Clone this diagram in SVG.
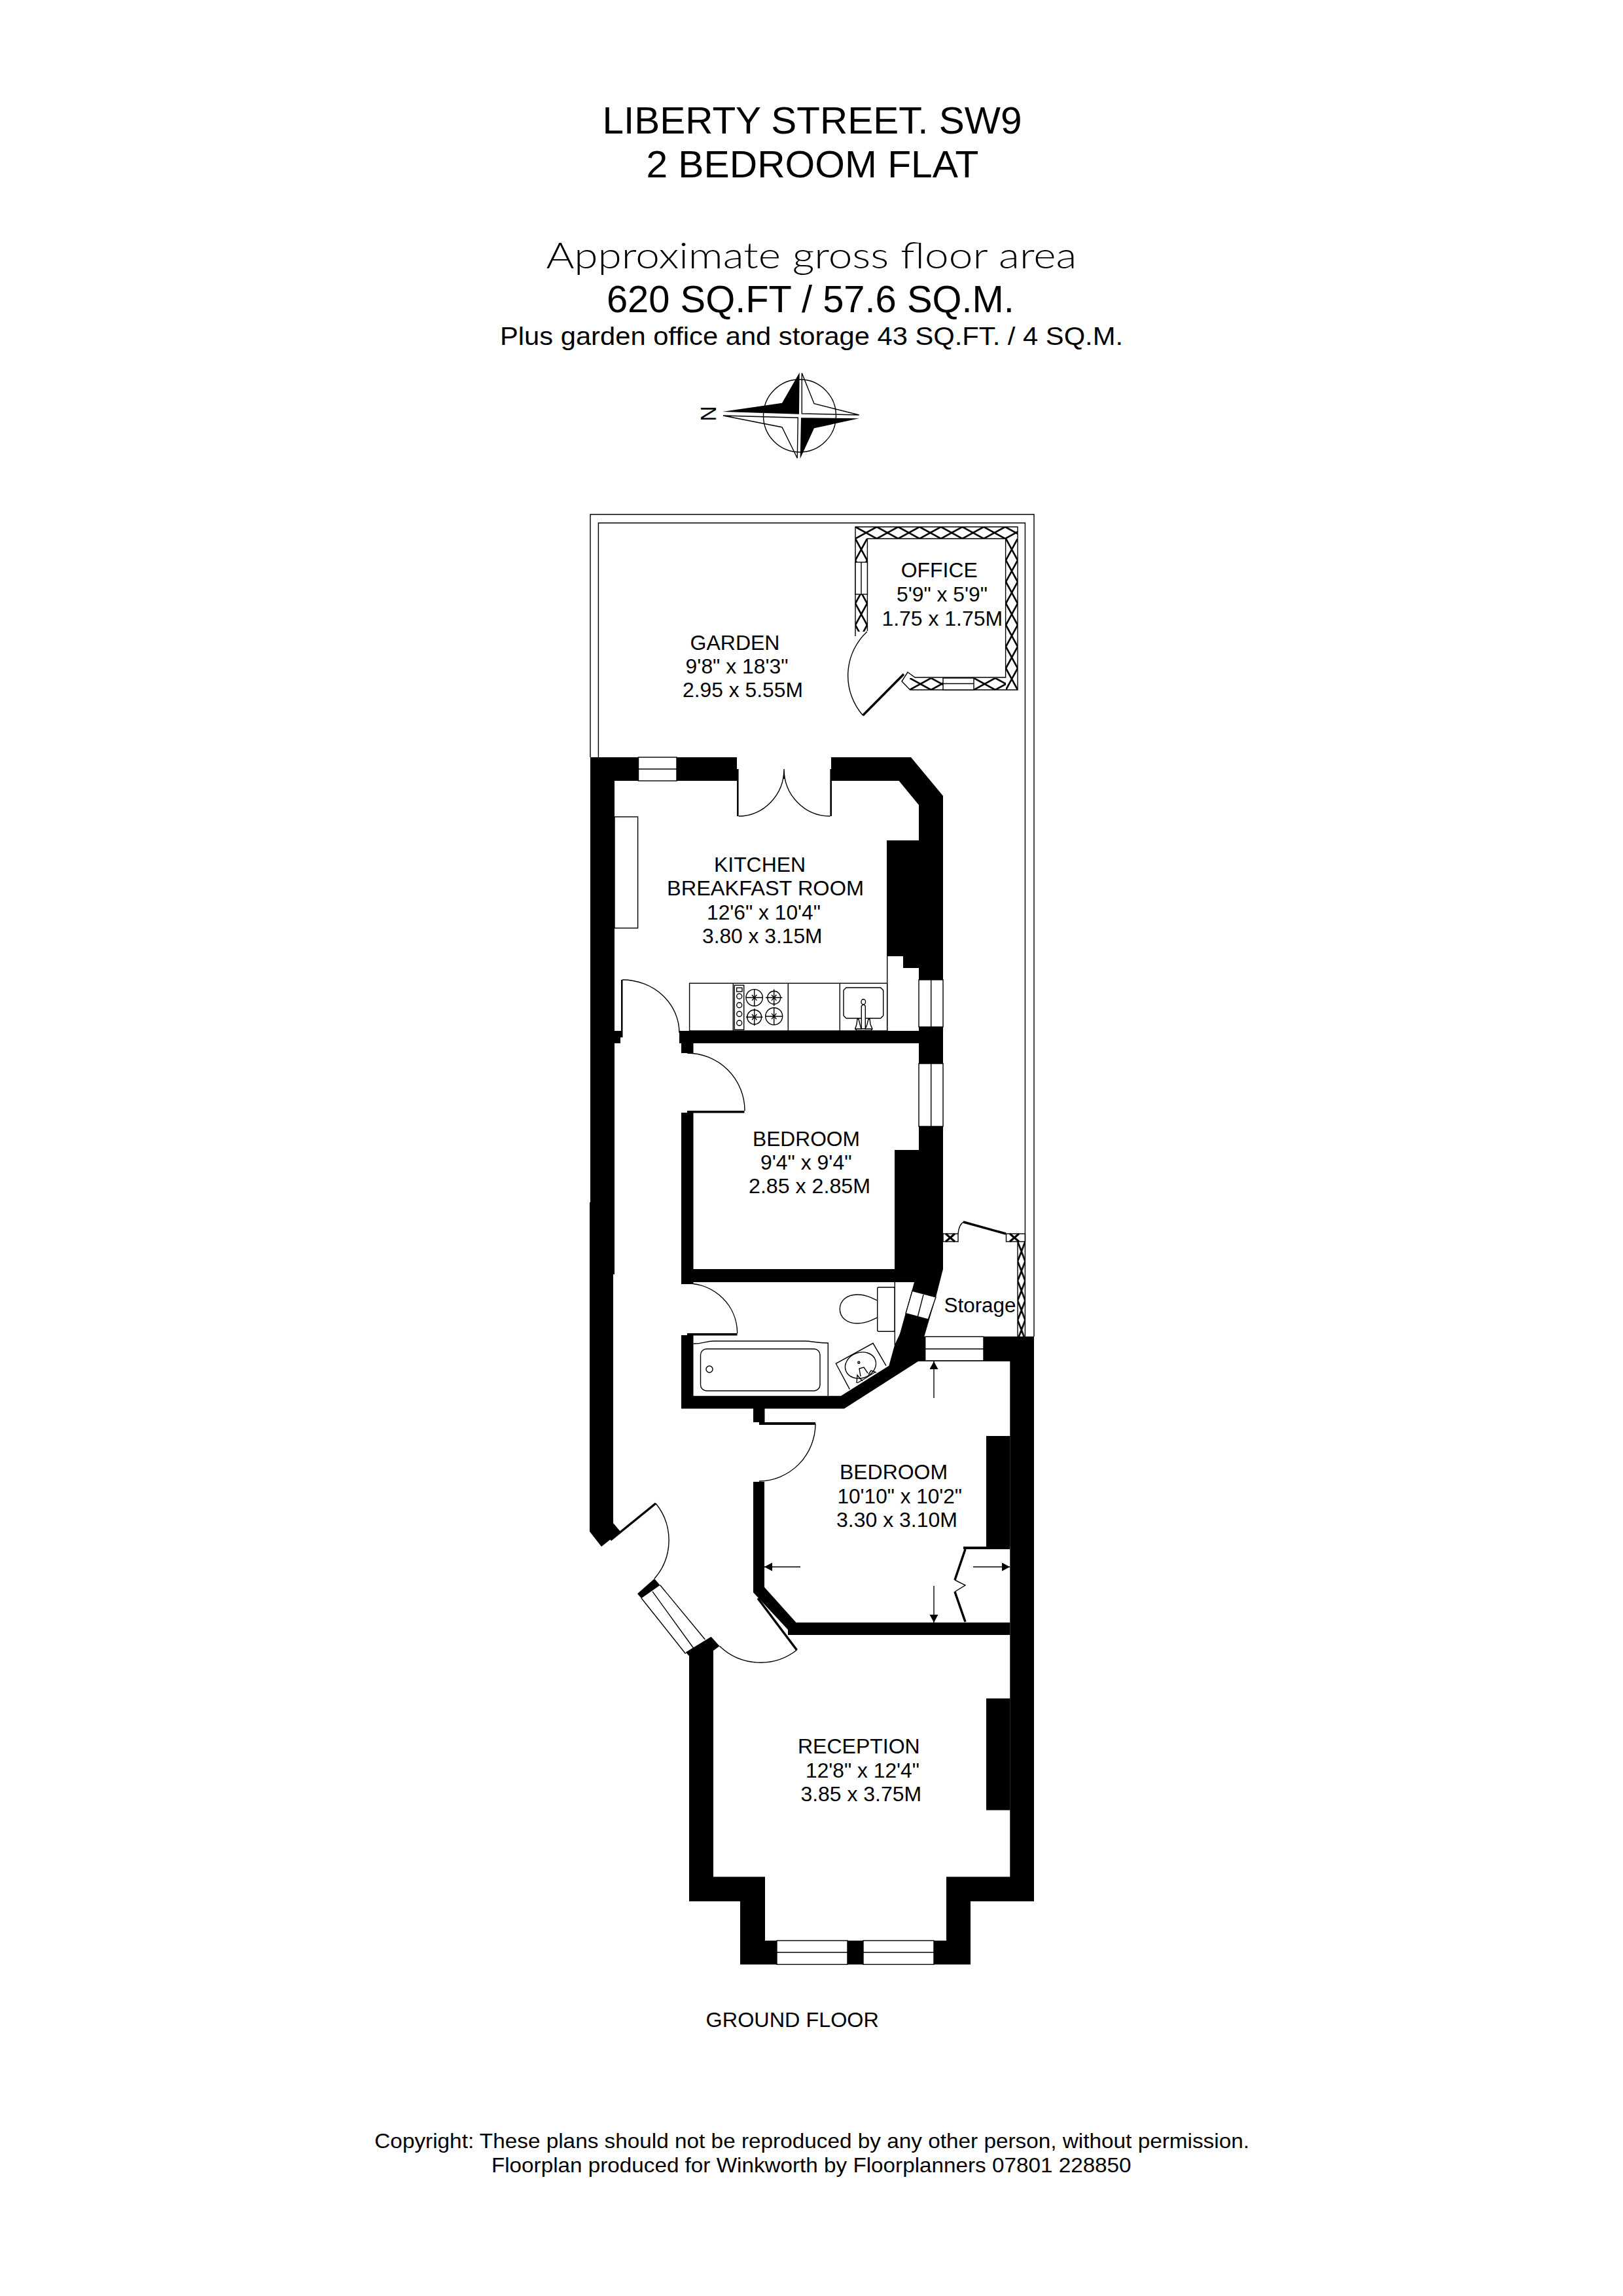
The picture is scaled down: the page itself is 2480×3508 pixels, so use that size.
<svg xmlns="http://www.w3.org/2000/svg" width="2480" height="3508" viewBox="0 0 2480 3508">
<style>
.t{font-family:"Liberation Sans",Arial,sans-serif;fill:#000;font-size:32px}
.g{font-family:Lato,"Liberation Sans",sans-serif;font-size:56px;font-weight:300;fill:#000}
.w{fill:#000;stroke:none}
.l{fill:none;stroke:#000;stroke-width:1.4}
.b{fill:#fff;stroke:#000;stroke-width:1.4}
.k{fill:none;stroke:#000;stroke-width:3.5}
.a{fill:none;stroke:#000;stroke-width:1.4;marker-end:url(#ar)}
</style>
<defs>
<marker id="ar" markerUnits="userSpaceOnUse" markerWidth="14" markerHeight="14" refX="12" refY="6.5" orient="auto"><path d="M0 0L12 6.5L0 13Z" fill="#000"/></marker>
<pattern id="xh" patternUnits="userSpaceOnUse" width="32.7" height="18"><path d="M0 0L32.7 18M32.7 0L0 18" stroke="#000" stroke-width="2.6" fill="none"/></pattern>
<pattern id="xv" patternUnits="userSpaceOnUse" width="18" height="33"><path d="M0 0L18 33M18 0L0 33" stroke="#000" stroke-width="2.6" fill="none"/></pattern>
<pattern id="xs" patternUnits="userSpaceOnUse" width="11.5" height="30"><path d="M0 0L11.5 30M11.5 0L0 30" stroke="#000" stroke-width="2.6" fill="none"/></pattern>
</defs>
<rect width="2480" height="3508" fill="#fff"/>

<g id="heading">
<text class="t" x="920.5" y="204" style="font-size:58px" textLength="641" lengthAdjust="spacingAndGlyphs">LIBERTY STREET. SW9</text>
<text class="t" x="987.4" y="270.7" style="font-size:58px" textLength="508" lengthAdjust="spacingAndGlyphs">2 BEDROOM FLAT</text>
<text class="g" x="834.4" y="410" textLength="811" lengthAdjust="spacingAndGlyphs">Approximate gross floor area</text>
<text class="t" x="926.9" y="476.7" style="font-size:58px" textLength="623" lengthAdjust="spacingAndGlyphs">620 SQ.FT / 57.6 SQ.M.</text>
<text class="t" x="764" y="526.7" style="font-size:38.5px" textLength="952" lengthAdjust="spacingAndGlyphs">Plus garden office and storage 43 SQ.FT. / 4 SQ.M.</text>
</g>

<g id="compass">
<circle class="l" cx="1222" cy="635.3" r="55.5"/>
<path d="M1104 629L1195 615.7L1221.7 569.3L1221 632.7Z" fill="#000"/>
<path d="M1312.7 639.3L1244 654.3L1222.7 700.7L1224 638.3Z" fill="#000"/>
<path class="l" d="M1225.3 570L1244 616.7L1312.7 634L1225.3 632Z"/>
<path class="l" d="M1105 635L1195 652.7L1218.3 700L1219.3 638.3Z"/>
<text class="t" transform="translate(1094,632) rotate(-90)" text-anchor="middle" style="font-size:32.5px">N</text>
</g>

<g id="garden">
<path class="l" d="M902 1157V786H1580V2042"/>
<path class="l" d="M914.4 1157V799H1566.4V2042"/>
<text class="t" x="1054.5" y="992.7" textLength="137" lengthAdjust="spacingAndGlyphs">GARDEN</text>
<text class="t" x="1047.6" y="1029" textLength="157" lengthAdjust="spacingAndGlyphs">9'8" x 18'3"</text>
<text class="t" x="1043" y="1065" textLength="184" lengthAdjust="spacingAndGlyphs">2.95 x 5.55M</text>
</g>

<g id="office">
<g transform="translate(1307,805)"><rect width="248" height="18" fill="url(#xh)"/></g>
<g transform="translate(1537,823)"><rect width="18" height="231" fill="url(#xv)"/></g>
<g transform="translate(1307,823)"><rect width="18.4" height="142" fill="url(#xv)"/></g>
<g transform="translate(1390,1036)"><rect width="147" height="18" fill="url(#xh)"/></g>
<path class="l" d="M1307 972V805H1555V1054H1390.6L1378 1041L1387 1027L1398 1035H1536.6V823H1325.4V964"/>
<rect class="b" x="1307" y="859" width="18.4" height="49"/>
<path class="l" d="M1316 859V908"/>
<rect class="b" x="1441" y="1036" width="47" height="18"/>
<path class="l" d="M1441 1044.5H1488"/>
<path class="k" d="M1318.5 1093L1381 1030"/>
<path class="l" d="M1318.5 1093A92 92 0 0 1 1325 965"/>
<text class="t" x="1376.8" y="882" textLength="117" lengthAdjust="spacingAndGlyphs">OFFICE</text>
<text class="t" x="1370" y="919" textLength="139" lengthAdjust="spacingAndGlyphs">5'9" x 5'9"</text>
<text class="t" x="1347.4" y="955.7" textLength="184.6" lengthAdjust="spacingAndGlyphs">1.75 x 1.75M</text>
</g>

<g id="storage">
<rect class="l" x="1441" y="1885" width="23" height="12"/>
<rect class="l" x="1537.5" y="1885" width="29" height="12"/>
<path d="M1445 1885L1459 1897M1459 1885L1445 1897M1543 1885L1557 1897M1557 1885L1543 1897" fill="none" stroke="#000" stroke-width="3"/>
<g transform="translate(1555,1897)"><rect width="11.5" height="145" fill="url(#xs)"/></g>
<path class="l" d="M1555 1897V2042"/>
<path class="k" d="M1472 1867L1537 1885"/>
<path class="l" d="M1464 1885Q1465 1872 1472 1867"/>
<text class="t" x="1442.5" y="2005" style="font-size:31px" textLength="110" lengthAdjust="spacingAndGlyphs">Storage</text>
</g>

<g id="walls">
<path class="w" d="M902 1157H1126V1193H939V1947H937V2327L948 2340L919 2363L901 2340V1837H902Z"/>
<rect class="w" x="1126" y="1175" width="2.6" height="72"/>
<rect class="w" x="1268.4" y="1175" width="2.6" height="72"/>
<path class="w" d="M1270 1157H1392L1441 1216V1939H1404V1479H1380V1461H1355V1284H1404V1230L1373.6 1193H1270Z"/>
<rect class="w" x="1367" y="1757" width="37" height="182"/>
<rect class="w" x="1038" y="1575" width="366" height="19"/>
<rect class="w" x="1041" y="1594" width="18.5" height="15"/>
<path class="w" d="M949 1497H951.5V1585H948V1594H939V1575H949Z"/>
<rect class="w" x="1041" y="1700" width="18.5" height="262"/>
<rect class="w" x="1050" y="1697" width="87.5" height="3.5"/>
<rect class="w" x="1041" y="1939" width="363" height="20"/>
<rect class="w" x="1050" y="2037" width="76.6" height="3.5"/>
<path class="w" d="M1041 2040H1059.5V2132.7H1285L1358.3 2086.7L1367 2055L1375 2038L1397 1959L1404 1939H1441L1430 1982L1412.3 2042L1403 2080L1290 2152.3H1041Z"/>
<rect class="w" x="1403" y="2042" width="177" height="38"/>
<rect class="w" x="1543.3" y="2042" width="36.7" height="456"/>
<rect class="w" x="1507" y="2194" width="36.5" height="169"/>
<rect class="w" x="1472" y="2363" width="71" height="4"/>
<rect class="w" x="1151" y="2152" width="17.5" height="21"/>
<rect class="w" x="1160" y="2173" width="86" height="4"/>
<path class="w" d="M1151 2264H1168V2425L1216.5 2479H1543.3V2498H1204V2490L1151 2433Z"/>
<path class="w" d="M1047.6 2524.6L1086.6 2500.7L1099.5 2515L1090 2522V2867.5H1169V2965H1446V2867.5H1543.3V2498H1580V2905H1483V3001.4H1131V2905H1053V2530Z"/>
<rect class="w" x="1507" y="2595" width="36.5" height="170.7"/>
<path class="w" d="M974 2435L1000 2412L1008.5 2422L980 2442Z"/>
</g>

<g id="windows">
<rect class="b" x="975.5" y="1157" width="58.5" height="36"/><path class="l" d="M975.5 1175H1034"/>
<rect class="b" x="1404" y="1497" width="37" height="72"/><path class="l" d="M1422.7 1497V1569"/>
<rect class="b" x="1404" y="1625" width="37" height="96"/><path class="l" d="M1422.7 1625V1721"/>
<path class="b" d="M1394 1972.3L1430 1981.7L1418.3 2016L1384 2006.7Z"/><path class="l" d="M1411 1978L1402.5 2011"/>
<rect class="b" x="1413.7" y="2042.3" width="89.3" height="36.7"/><path class="l" d="M1413.7 2061H1503"/>
<rect class="b" x="1187" y="2965" width="108" height="36.4"/><path class="l" d="M1187 2983H1295"/>
<rect class="b" x="1319" y="2965" width="108" height="36.4"/><path class="l" d="M1319 2983H1427"/>
<path class="l" d="M980 2441.7L1047.6 2526.7M997 2431.7L1061 2520M1008.5 2421.7L1077.4 2505"/>
</g>

<g id="kitchen">
<path class="l" d="M1128.6 1247A70 72 0 0 0 1198 1175M1268.4 1247A70 72 0 0 1 1198 1175M1198 1175V1190"/>
<rect class="b" x="939" y="1248" width="35.6" height="170"/>
<path class="l" d="M951 1497A87 81 0 0 1 1038 1578"/>
<rect class="l" x="1053.6" y="1502.3" width="302" height="72.7"/>
<path class="l" d="M1355.7 1461V1575M1120.3 1502.3V1575M1204.3 1502.3V1575M1283.3 1502.3V1575"/>
<rect class="l" x="1122.3" y="1505.3" width="14.4" height="68"/>
<rect class="l" x="1125.7" y="1509.3" width="8.3" height="5.7"/>
<circle class="l" cx="1129.7" cy="1522.3" r="4"/><circle class="l" cx="1129.7" cy="1535.7" r="4"/><circle class="l" cx="1129.7" cy="1549.3" r="4"/><circle class="l" cx="1129.7" cy="1563" r="4"/>
<circle class="l" cx="1152.7" cy="1524.3" r="12.7"/><circle class="l" cx="1182.7" cy="1524.3" r="10"/><circle class="l" cx="1152.7" cy="1554" r="11"/><circle class="l" cx="1182.7" cy="1552.7" r="13"/>
<path class="l" d="M1140 1524.3H1165.4M1152.7 1511.6V1537M1170 1524.3H1195.4M1182.7 1511.6V1537M1140 1554H1165.4M1152.7 1541V1567M1170 1552.7H1195.4M1182.7 1539.7V1565.7"/>
<path class="l" d="M1149 1520L1156.4 1528.6M1156.4 1520L1149 1528.6M1179 1520L1186.4 1528.6M1186.4 1520L1179 1528.6M1149 1549.7L1156.4 1558.3M1156.4 1549.7L1149 1558.3M1179 1548.4L1186.4 1557M1186.4 1548.4L1179 1557"/>
<path class="l" d="M1293 1509H1345.7L1349.7 1513V1551.7L1345.7 1555.7H1293L1289 1551.7V1513Z"/>
<path class="b" d="M1316.3 1571.7V1537L1319.3 1534.5L1322.3 1537V1571.7Z"/>
<ellipse class="b" cx="1319.3" cy="1530.7" rx="3.3" ry="4"/>
<path class="l" d="M1306.7 1572L1309 1565L1310 1557L1312 1557L1314 1565L1316 1572ZM1322.3 1572L1325 1565L1327 1557L1329 1557L1330 1565L1333 1572ZM1307 1572L1309 1574.5H1331L1333 1572"/>
<text class="t" x="1091" y="1331.7" textLength="140" lengthAdjust="spacingAndGlyphs">KITCHEN</text>
<text class="t" x="1019" y="1368" textLength="301" lengthAdjust="spacingAndGlyphs">BREAKFAST ROOM</text>
<text class="t" x="1080" y="1405" textLength="174" lengthAdjust="spacingAndGlyphs">12'6" x 10'4"</text>
<text class="t" x="1073" y="1441" textLength="183.5" lengthAdjust="spacingAndGlyphs">3.80 x 3.15M</text>
</g>

<g id="bedroom1">
<path class="l" d="M1050 1609A88 88 0 0 1 1138 1697"/>
<text class="t" x="1150" y="1750.7" textLength="164" lengthAdjust="spacingAndGlyphs">BEDROOM</text>
<text class="t" x="1162" y="1786.7" textLength="139.5" lengthAdjust="spacingAndGlyphs">9'4" x 9'4"</text>
<text class="t" x="1144" y="1823" textLength="186" lengthAdjust="spacingAndGlyphs">2.85 x 2.85M</text>
</g>

<g id="bathroom">
<path class="l" d="M1050 1961A76.6 76 0 0 1 1126.6 2037"/>
<path class="l" d="M1367.3 1959V2055"/>
<rect class="l" x="1340.7" y="1966.7" width="26.6" height="67.6" rx="2"/>
<path class="l" d="M1340.7 1987C1330 1982 1322 1978 1310 1978C1293 1978 1283.3 1988 1283.3 2000C1283.3 2012 1293 2022 1310 2022C1322 2022 1330 2018 1340.7 2013"/>
<path class="l" d="M1059.5 2053C1075 2053 1078 2049 1090 2049H1230C1242 2049 1246 2052 1265.3 2052V2132.7"/>
<rect class="l" x="1070.5" y="2061" width="182.5" height="64" rx="9"/>
<circle class="l" cx="1084" cy="2092" r="5"/>
<path class="l" d="M1298.3 2122.7L1277.3 2083.3L1334 2052.3L1354 2086.7"/>
<ellipse class="l" cx="1315" cy="2086" rx="24" ry="19.5" transform="rotate(-20 1315 2086)"/>
<circle class="l" cx="1312.3" cy="2081.7" r="1.5"/>
<path class="l" d="M1315 2103L1313 2091L1320 2089L1326 2098M1309 2113L1310 2101L1315 2107L1318 2110M1327 2100L1331 2094L1339 2097M1310 2113L1322 2106L1338 2096"/>
</g>

<g id="bedroom2">
<path class="l" d="M1246 2175A87 88 0 0 1 1160 2263"/>
<path class="k" d="M1475 2367L1459 2414M1459 2432L1475 2478"/>
<path class="l" d="M1459 2414L1475 2422L1459 2432"/>
<path class="a" d="M1427 2136V2080"/>
<path class="a" d="M1223 2394H1168"/>
<path class="a" d="M1487 2394H1543"/>
<path class="a" d="M1427 2423V2479"/>
<text class="t" x="1283" y="2260" textLength="165" lengthAdjust="spacingAndGlyphs">BEDROOM</text>
<text class="t" x="1279.5" y="2296.7" textLength="190.5" lengthAdjust="spacingAndGlyphs">10'10" x 10'2"</text>
<text class="t" x="1278" y="2332.7" textLength="185" lengthAdjust="spacingAndGlyphs">3.30 x 3.10M</text>
</g>

<g id="entrance">
<path class="k" d="M933 2353L1002 2297"/>
<path class="l" d="M1002 2297A89 89 0 0 1 1000 2412"/>
<path class="k" d="M1158 2442L1217.5 2521"/>
<path class="l" d="M1217.5 2521A90 90 0 0 1 1099.5 2515"/>
</g>

<g id="reception">
<text class="t" x="1219" y="2678.6" textLength="186.7" lengthAdjust="spacingAndGlyphs">RECEPTION</text>
<text class="t" x="1231" y="2715.7" textLength="174" lengthAdjust="spacingAndGlyphs">12'8" x 12'4"</text>
<text class="t" x="1223.4" y="2752" textLength="184.6" lengthAdjust="spacingAndGlyphs">3.85 x 3.75M</text>
</g>

<g id="footer">
<text class="t" x="1078.6" y="3097.3" style="font-size:31px" textLength="264.3" lengthAdjust="spacingAndGlyphs">GROUND FLOOR</text>
<text class="t" x="572.3" y="3281.7" textLength="1336.7" lengthAdjust="spacingAndGlyphs">Copyright: These plans should not be reproduced by any other person, without permission.</text>
<text class="t" x="750.9" y="3319.3" textLength="977.7" lengthAdjust="spacingAndGlyphs">Floorplan produced for Winkworth by Floorplanners 07801 228850</text>
</g>
</svg>
